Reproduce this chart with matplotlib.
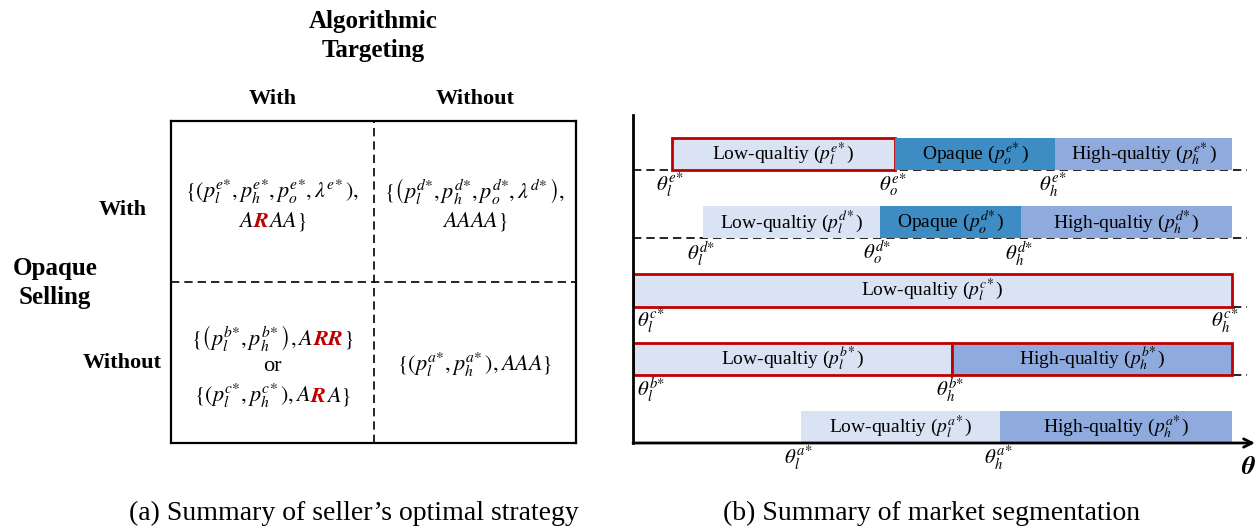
import numpy as np
import matplotlib
matplotlib.use('Agg')
import matplotlib.pyplot as plt
import matplotlib.transforms as mtransforms

plt.rcParams['font.family'] = ['Liberation Serif', 'DejaVu Serif']
plt.rcParams['mathtext.fontset'] = 'stix'

# ---- (b) market segmentation data: thresholds on the theta axis ----
rows = ['a', 'b', 'c', 'd', 'e']            # bottom to top
theta_l = [0.280, 0.0, 0.0, 0.117, 0.065]
theta_o = [np.nan, np.nan, np.nan, 0.412, 0.437]
theta_h = [0.613, 0.533, 1.0, 0.648, 0.705]
theta_max = 1.0
red_low = [False, True, True, False, True]
red_high = [False, True, False, False, False]
dashed_rows = ['b', 'c', 'd', 'e']

# ---- (a) strategy table text ----
col_labels = ['With', 'Without']
row_labels = ['With', 'Without']

RED = '#C00000'
c_low = '#DAE3F3'
c_opq = '#3D8CC4'
c_high = '#8FAADC'
BI = dict(family='STIXGeneral', style='italic', weight='bold', color=RED)

fig = plt.figure(figsize=(12.6, 5.29), dpi=100)
W, H = 1260, 529


def rich_line(ax, x, y, parts, size):
    r = fig.canvas.get_renderer()
    texts = []
    for s, props in parts:
        texts.append(ax.text(x, y, s, fontsize=size, ha='left', va='baseline',
                             clip_on=False, **props))
    widths = [t.get_window_extent(r).width for t in texts]
    off = -sum(widths) / 2
    for t, w in zip(texts, widths):
        t.set_transform(mtransforms.offset_copy(ax.transData, fig=fig, x=off, y=0, units='dots'))
        off += w


# ================= left panel =================
axL = fig.add_axes([171 / W, (H - 443) / H, 405 / W, 322 / H])
axL.set_xlim(0, 2)
axL.set_ylim(0, 2)
axL.set_xticks([])
axL.set_yticks([])
for s in axL.spines.values():
    s.set_linewidth(1.6)
axL.axvline(1, color='black', lw=1.2, ls=(0, (5, 3)))
axL.axhline(1, color='black', lw=1.2, ls=(0, (5, 3)))

axL.text(1.0, 2.53, 'Algorithmic\nTargeting', ha='center', va='center', fontsize=18,
         fontweight='bold', linespacing=1.35, clip_on=False)
for i, lab in enumerate(col_labels):
    axL.text(0.5 + i, 2.137, lab, ha='center', va='center', fontsize=16, fontweight='bold')
axL.text(-0.573, 0.994, 'Opaque\nSelling', ha='center', va='center', fontsize=18,
         fontweight='bold', linespacing=1.3)
axL.text(-0.24, 1.45, row_labels[0], ha='center', va='center', fontsize=16, fontweight='bold')
axL.text(-0.24, 0.497, row_labels[1], ha='center', va='center', fontsize=16, fontweight='bold')

fs = 16
rich_line(axL, 0.5, 1.52, [(r'$\{(p_l^{e\!*}\!, p_h^{e\!*}\!, p_o^{e\!*}\!, \lambda^{e\!*}),$', {})], fs)
rich_line(axL, 0.5, 1.342, [(r'$A$', {}), ('R', BI), (r'$AA\}$', {})], fs)
rich_line(axL, 1.5, 1.52, [(r'$\{\left(p_l^{d\!*}\!, p_h^{d\!*}\!, p_o^{d\!*}\!, \lambda^{d\!*}\right),$', {})], fs)
rich_line(axL, 1.5, 1.342, [(r'$AAAA\}$', {})], fs)
rich_line(axL, 0.5, 0.609, [(r'$\{\left(p_l^{b\!*}\!, p_h^{b\!*}\right), A$', {}), ('RR', BI), (r'$\}$', {})], fs)
rich_line(axL, 0.5, 0.447, [('or', {})], fs)
rich_line(axL, 0.5, 0.255, [(r'$\{(p_l^{c\!*}\!, p_h^{c\!*}), A$', {}), ('R', BI), (r'$A\}$', {})], fs)
rich_line(axL, 1.5, 0.447, [(r'$\{(p_l^{a\!*}\!, p_h^{a\!*}), AAA\}$', {})], fs)

fig.text(354 / W, 1 - 513 / H, '(a) Summary of seller\u2019s optimal strategy',
         ha='center', va='center', fontsize=20)

# ================= right panel =================
axR = fig.add_axes([633 / W, (H - 443) / H, 622 / W, 328 / H])
axR.set_xlim(0, 622 / 599)
axR.set_ylim(0, 328 / 68.25)
axR.set_xticks([])
axR.set_yticks([])
for k in ['top', 'right', 'bottom']:
    axR.spines[k].set_visible(False)
axR.spines['left'].set_linewidth(2)
axR.annotate('', xy=(622 / 599, 0), xytext=(0, 0), xycoords='data',
             arrowprops=dict(arrowstyle='->,head_length=0.6,head_width=0.3', lw=2,
                             color='black', shrinkA=0, shrinkB=0), annotation_clip=False)

bh = 0.47
for i, r in enumerate(rows):
    if r in dashed_rows:
        axR.plot([0, 614 / 599], [i, i], color='black', lw=1.2, ls=(0, (5, 3)), zorder=1)
    has_o = not np.isnan(theta_o[i])
    low_end = theta_o[i] if has_o else theta_h[i]
    segs = [(theta_l[i], low_end, c_low, r'Low-qualtiy ($p_l^{%s\!*}$)' % r, red_low[i])]
    if has_o:
        segs.append((theta_o[i], theta_h[i], c_opq, r'Opaque ($p_o^{%s\!*}$)' % r, False))
    if theta_max > theta_h[i]:
        segs.append((theta_h[i], theta_max, c_high, r'High-qualtiy ($p_h^{%s\!*}$)' % r, red_high[i]))
    for x0, x1, col, lab, red in segs:
        axR.barh(i, x1 - x0, left=x0, height=bh, align='edge', color=col,
                 edgecolor=RED if red else 'none', linewidth=2 if red else 0, zorder=2)
        axR.text((x0 + x1) / 2, i + bh / 2, lab, ha='center', va='center', fontsize=14, zorder=3)
    for val, sub in [(theta_l[i], 'l'), (theta_o[i], 'o'), (theta_h[i], 'h')]:
        if np.isnan(val):
            continue
        ha = 'center'
        if val == 0:
            ha = 'left'
        elif val == theta_max:
            ha = 'right'
        axR.text(val + (0.006 if ha == 'left' else 0.01 if ha == 'right' else -0.004), i - 0.22,
                 r'$\theta_%s^{%s\!*}$' % (sub, r), ha=ha, va='center', fontsize=15, clip_on=False)

axR.text(1.027, -0.35, '\u03b8', ha='center', va='center', fontsize=19,
         family='STIXGeneral', style='italic', weight='bold', clip_on=False)

fig.text(932 / W, 1 - 513 / H, '(b) Summary of market segmentation',
         ha='center', va='center', fontsize=20)

fig.savefig('out.png', dpi=100)
